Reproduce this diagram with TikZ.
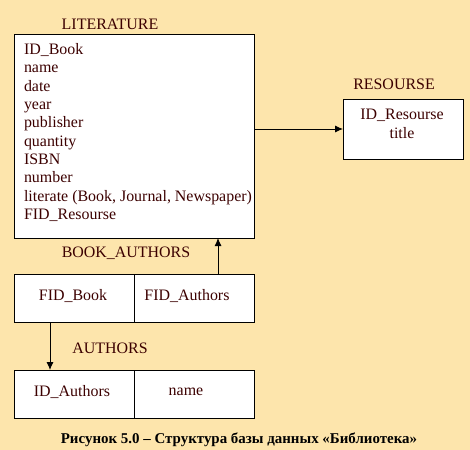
\documentclass[tikz,border=0pt]{standalone}
\usepackage{fontspec}
\setmainfont{Liberation Serif}
\usetikzlibrary{arrows.meta}
\definecolor{bg}{RGB}{253,229,172}
\definecolor{txt}{RGB}{60,0,0}
\begin{document}
\begin{tikzpicture}[x=1bp,y=-1bp,
  every node/.style={inner sep=0pt, outer sep=0pt, text=txt, font=\fontsize{16}{18.4}\selectfont},
  tbox/.style={draw=black, fill=white, line width=0.9bp, minimum width=#1, anchor=north west},
  lbl/.style={anchor=center},
  arr/.style={draw=black, line width=0.9bp, -{Latex[length=8bp,width=7bp]}}]
\fill[bg] (0,0) rectangle (470,450);
\useasboundingbox (0,0) rectangle (470,450);
% LITERATURE
\node[lbl] (litT) at (110,24) {LITERATURE};
\node[tbox=240bp, minimum height=204bp] (lit) at (14,34) {};
\node[anchor=north west, align=left] (litL) at (24,43.5) {ID\_Book\\name\\date\\year\\publisher\\quantity\\ISBN\\number\\literate (Book, Journal,\ Newspaper)\\FID\_Resourse};
% RESOURSE
\node[lbl] (resT) at (394,84) {RESOURSE};
\node[tbox=120bp, minimum height=60bp] (res) at (343,99) {};
\node[align=center] (resL) at (402,124) {ID\_Resourse\\title};
% BOOK_AUTHORS
\node[lbl] (baT) at (126,253) {BOOK\_AUTHORS};
\node[tbox=120bp, minimum height=48bp] (ba1) at (14,274) {};
\node[tbox=120bp, minimum height=48bp] (ba2) at (134,274) {};
\node (fb) at (73,296) {FID\_Book};
\node (fa) at (187,296) {FID\_Authors};
% AUTHORS
\node[lbl] (auT) at (110,348) {AUTHORS};
\node[tbox=120bp, minimum height=48bp] (au1) at (14,370) {};
\node[tbox=120bp, minimum height=48bp] (au2) at (134,370) {};
\node (ida) at (72,392) {ID\_Authors};
\node (nm) at (186,392) {name};
% arrows
\draw[arr] (lit.east |- res.west) -- (res.west);
\coordinate (up) at (218,274);
\draw[arr] (up) -- (up |- lit.south);
\coordinate (dn) at (50,322);
\draw[arr] (dn) -- (dn |- au1.north);
% caption
\node[text=black, font=\fontsize{15}{18}\selectfont\bfseries] (cap) at (239,440) {Рисунок 5.0 – Структура базы данных «Библиотека»};
\end{tikzpicture}
\end{document}
